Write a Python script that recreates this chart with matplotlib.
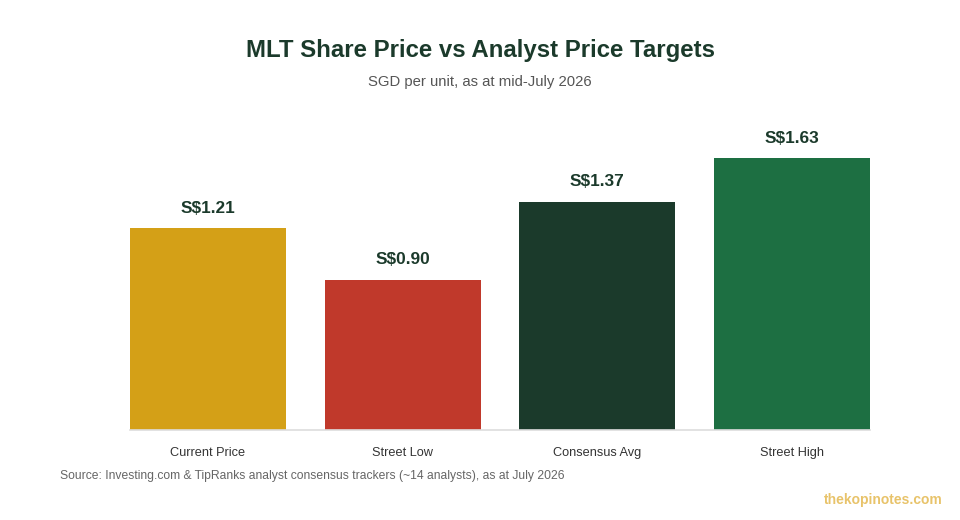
import numpy as np
import matplotlib.pyplot as plt

plt.rcParams['font.family'] = ['Liberation Sans', 'DejaVu Sans']

categories = ["Current Price", "Street Low", "Consensus Avg", "Street High"]
prices = [1.21, 0.90, 1.37, 1.63]
labels = ["S$1.21", "S$0.90", "S$1.37", "S$1.63"]
colors = ["#D4A017", "#C0392B", "#1B3A2B", "#1D6F42"]

fig = plt.figure(figsize=(9.6, 5.2), dpi=100)
ax = fig.add_axes([130/960, 90/520, 740/960, 300/520])

x = np.arange(len(categories))
bars = ax.bar(x, prices, width=0.8, color=colors, zorder=2)

for b, lab in zip(bars, labels):
    ax.annotate(lab, (b.get_x() + b.get_width()/2, b.get_height()),
                xytext=(0, 9), textcoords="offset points",
                ha="center", va="bottom", fontsize=12.4, fontweight="bold",
                color="#1B3A2B")

ax.set_xlim(-0.4, 3.4)
ax.set_ylim(0, 1.8)
ax.set_yticks([])
ax.set_xticks(x)
ax.set_xticklabels(categories, fontsize=9.2, color="#333333")
ax.tick_params(axis="x", length=0, pad=12.5)
for s in ["top", "right", "left"]:
    ax.spines[s].set_visible(False)
ax.spines["bottom"].set_color("#dddddd")
ax.spines["bottom"].set_linewidth(1.2)

fig.text(0.5, 1 - 50/520, "MLT Share Price vs Analyst Price Targets",
         ha="center", va="center", fontsize=17.3, fontweight="bold", color="#1B3A2B")
fig.text(0.5, 1 - 82/520, "SGD per unit, as at mid-July 2026",
         ha="center", va="center", fontsize=10.75, color="#555555")
fig.text(60/960, 1 - 476/520,
         "Source: Investing.com & TipRanks analyst consensus trackers (~14 analysts), as at July 2026",
         ha="left", va="center", fontsize=8.7, color="#666666")
fig.text(943/960, 1 - 500/520, "thekopinotes.com",
         ha="right", va="center", fontsize=10, fontweight="bold", color="#E8C36A")

fig.savefig("out.png", dpi=100)
